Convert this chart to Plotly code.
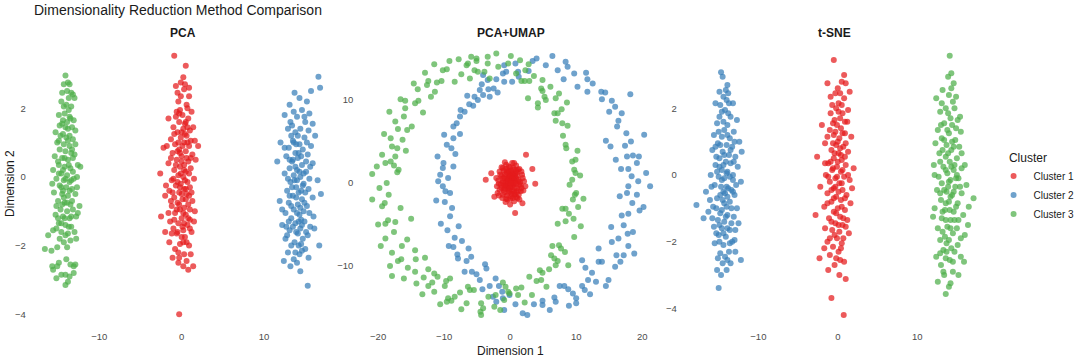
import plotly.graph_objects as go

W, H = 1080, 360

panels = ["PCA", "PCA+UMAP", "t-SNE"]
clusters = ["Cluster 1", "Cluster 2", "Cluster 3"]
colors = {"Cluster 1": "#E41A1C", "Cluster 2": "#377EB8", "Cluster 3": "#4DAF4A"}

# ---------------- PCA ----------------
pca_c1 = [(-0.9, 3.53), (0.5, 3.24), (-0.1, 2.75), (0.4, 2.7), (0.3, 2.55), (0.9, 2.35), (-0.4, 2.2), (0.6, 2.1),
          (-0.2, 1.95), (1.2, 1.9), (0.1, 1.8), (-0.7, 1.75), (0.8, 1.7), (-0.3, 1.6), (0.4, 1.55), (-1.0, 1.45),
          (0.2, 1.4), (1.0, 1.35), (-0.5, 1.3), (0.6, 1.2), (-1.3, 1.1), (-0.1, 1.15), (1.6, 1.05), (0.3, 1.0),
          (-0.8, 0.95), (0.9, 0.9), (-2.2, 0.85), (-0.3, 0.8), (0.5, 0.75), (-1.1, 0.7), (1.3, 0.65), (0.0, 0.6),
          (-0.6, 0.5), (0.8, 0.45), (-1.6, 0.4), (0.3, 0.35), (-0.2, 0.3), (1.1, 0.25), (-0.9, 0.2), (0.5, 0.15),
          (-2.6, 0.1), (-0.4, 0.05), (0.2, 0.0), (1.5, -0.05), (-1.2, -0.1), (0.7, -0.15), (-0.1, -0.2),
          (-0.7, -0.25), (1.0, -0.3), (0.3, -0.35), (-1.5, -0.4), (-0.3, -0.45), (0.6, -0.5), (-2.0, -0.55),
          (-0.9, -0.6), (0.1, -0.65), (1.3, -0.7), (-0.5, -0.75), (0.8, -0.8), (-1.2, -0.85), (0.3, -0.9),
          (-0.2, -0.95), (1.6, -1.0), (-0.8, -1.05), (0.5, -1.1), (-2.5, -1.15), (0.0, -1.2), (1.0, -1.25),
          (-1.4, -1.3), (-0.4, -1.35), (0.7, -1.4), (-1.0, -1.5), (0.2, -1.55), (1.2, -1.6), (-0.6, -1.65),
          (0.4, -1.75), (-1.5, -1.9), (-0.2, -1.95), (0.9, -2.0), (-0.8, -2.1), (0.3, -2.25), (-1.1, -2.35),
          (0.6, -2.45), (-0.4, -2.5), (1.4, -2.6), (0.8, -2.7), (-0.3, -2.35), (0.1, -1.45), (-0.2, 0.7),
          (0.5, 1.6), (-1.9, -0.25), (-0.3, -4.0),
          (0.2, 2.9), (-0.5, 2.45), (0.7, 2.0), (-0.1, 2.35), (1.4, 1.45), (-0.6, 1.9), (0.0, 1.3), (0.7, 1.45),
          (-0.4, 1.0), (0.4, 1.25), (1.1, 1.05), (-0.9, 1.25), (0.1, 0.9), (-0.5, 0.75), (0.6, 0.55), (1.7, 0.5),
          (-1.3, 0.55), (0.0, 0.45), (-0.7, 0.35), (0.9, 0.1), (0.3, 0.2), (-1.0, -0.05), (-0.5, -0.15),
          (0.4, -0.1), (1.2, -0.45), (-0.2, -0.3), (0.9, -0.55), (-1.1, -0.45), (0.0, -0.5), (-0.6, -0.95),
          (0.5, -0.65), (1.0, -0.95), (-0.3, -0.8), (0.2, -1.05), (-1.6, -1.05), (0.8, -1.2), (-0.9, -1.25),
          (0.3, -1.35), (-0.5, -1.6), (1.0, -1.5), (0.0, -1.75), (-1.2, -1.65), (0.6, -1.9), (-0.4, -2.2),
          (1.1, -2.25), (0.2, -2.6), (-2.0, -1.6), (2.0, 0.9), (-1.6, 1.7), (0.9, 2.6), (-0.7, 2.65),
          (1.5, -1.3), (-1.8, 0.9), (-0.1, 0.1), (0.5, -0.35), (-0.3, 1.85), (0.2, -1.9), (1.1, 0.55),
          (-1.3, -0.7), (0.7, 1.0)]
pca_c2 = [(16.6, 2.92), (16.8, 2.6), (13.7, 2.45), (15.2, 2.2), (13.1, 2.1), (14.6, 1.95), (15.5, 1.85), (12.5, 1.8),
          (14.0, 1.75), (15.0, 1.6), (13.4, 1.5), (14.4, 1.4), (13.8, 1.3), (16.2, 1.2), (14.9, 1.15), (12.0, 1.0),
          (13.5, 1.05), (14.3, 0.95), (15.7, 0.9), (13.0, 0.85), (14.7, 0.8), (13.8, 0.7), (15.3, 0.65), (12.7, 0.6),
          (14.1, 0.55), (13.4, 0.45), (15.9, 0.4), (14.6, 0.35), (13.1, 0.25), (14.0, 0.2), (15.1, 0.15), (12.5, 0.1),
          (13.6, 0.05), (14.4, 0.0), (16.5, -0.1), (13.2, -0.15), (14.8, -0.2), (13.9, -0.3), (15.4, -0.35),
          (12.8, -0.4), (14.2, -0.45), (13.5, -0.55), (15.9, -0.6), (14.6, -0.65), (11.9, -0.7), (13.0, -0.75),
          (14.1, -0.8), (15.2, -0.85), (13.6, -0.95), (14.8, -1.0), (12.6, -1.05), (14.3, -1.1), (16.0, -1.15),
          (13.3, -1.2), (14.9, -1.3), (13.8, -1.35), (12.2, -1.4), (15.6, -1.45), (14.4, -1.5), (13.1, -1.55),
          (14.1, -1.65), (15.1, -1.6), (12.6, -1.8), (13.7, -1.9), (14.5, -1.95), (16.7, -2.0), (15.0, -2.1),
          (12.9, -2.2), (14.3, -2.25), (13.6, -2.4), (15.4, -2.35), (14.0, -2.5), (13.2, -2.6), (14.4, -2.75),
          (15.3, -3.17), (14.7, -0.25), (13.9, 0.95), (14.5, -1.25), (13.2, 1.6), (15.6, 0.3), (14.2, -2.0),
          (13.5, 0.5),
          (15.7, 2.5), (14.3, 2.3), (14.9, 1.75), (13.6, 1.9), (12.9, 1.4), (15.9, 1.55), (14.1, 1.2), (13.3, 1.2),
          (15.2, 1.0), (12.5, 0.85), (14.5, 0.6), (13.1, 0.5), (15.1, 0.45), (13.8, 0.3), (14.3, 0.15),
          (12.9, -0.05), (15.5, -0.05), (14.0, -0.1), (13.4, -0.3), (14.5, -0.4), (15.0, -0.45), (13.1, -0.55),
          (13.9, -0.6), (14.9, -0.75), (13.3, -0.85), (14.4, -0.9), (12.2, -0.95), (15.5, -1.05), (14.0, -1.05),
          (13.0, -1.3), (14.6, -1.4), (13.5, -1.45), (15.3, -1.7), (13.9, -1.6), (12.8, -1.7), (14.7, -1.8),
          (13.3, -2.0), (14.6, -2.15), (12.4, -2.45), (13.8, -2.2), (16.1, -1.5), (11.6, 0.45), (16.9, -0.5),
          (14.8, 0.1), (13.7, -0.1), (14.2, 0.7), (15.4, 1.35), (12.7, -1.45), (14.2, -1.3), (13.6, 1.0)]
pca_c3 = [(-14.1, 2.95), (-13.8, 2.75), (-13.6, 2.7), (-14.5, 2.45), (-13.9, 2.5), (-13.4, 2.45), (-13.2, 2.4),
          (-14.6, 2.2), (-13.0, 2.3), (-14.3, 2.05), (-14.0, 2.1), (-13.7, 1.95), (-14.9, 1.8), (-13.6, 1.75),
          (-14.4, 1.65), (-13.5, 1.7), (-13.1, 1.65), (-14.5, 1.55), (-14.1, 1.45), (-15.3, 1.3), (-13.8, 1.4),
          (-13.3, 1.45), (-14.7, 1.2), (-14.0, 1.15), (-13.2, 1.1), (-15.1, 1.0), (-14.3, 0.95), (-13.6, 0.9),
          (-12.9, 0.95), (-14.8, 0.8), (-14.1, 0.75), (-13.4, 0.7), (-15.4, 0.6), (-14.5, 0.55), (-13.8, 0.5),
          (-13.2, 0.55), (-12.6, 0.35), (-14.9, 0.35), (-14.2, 0.3), (-13.5, 0.25), (-15.6, 0.2), (-14.6, 0.1),
          (-13.9, 0.05), (-12.7, 0.0), (-15.2, -0.05), (-14.3, -0.1), (-13.6, -0.15), (-13.1, -0.05),
          (-14.8, -0.25), (-14.0, -0.3), (-13.3, -0.35), (-15.5, -0.45), (-14.5, -0.5), (-13.8, -0.55),
          (-12.9, -0.5), (-15.0, -0.7), (-14.2, -0.75), (-13.5, -0.8), (-12.4, -0.85), (-14.7, -0.95),
          (-13.9, -1.0), (-13.2, -0.95), (-15.3, -1.1), (-14.4, -1.15), (-13.6, -1.2), (-12.8, -1.15),
          (-14.9, -1.35), (-14.1, -1.4), (-13.4, -1.45), (-15.6, -1.55), (-14.6, -1.6), (-13.8, -1.65),
          (-13.0, -1.6), (-16.2, -1.7), (-14.3, -1.9), (-13.5, -1.85), (-15.1, -2.05), (-15.8, -2.15),
          (-14.9, -2.5), (-14.0, -2.4), (-13.5, -2.55), (-15.1, -2.6), (-15.6, -2.7), (-12.9, -2.55),
          (-14.6, -2.85), (-14.1, -2.85), (-13.6, -2.9), (-14.1, -3.15), (-13.1, -2.8), (-13.8, -3.05),
          (-15.7, -2.6),
          (-14.3, 2.7), (-13.7, 2.3), (-14.2, 1.85), (-13.4, 2.05), (-14.8, 1.5), (-13.9, 1.6), (-12.9, 1.35),
          (-14.4, 1.25), (-13.6, 1.2), (-14.9, 1.05), (-13.3, 0.8), (-14.2, 0.55), (-13.0, 0.65), (-15.0, 0.45),
          (-13.7, 0.35), (-14.4, 0.2), (-13.2, 0.15), (-14.9, 0.1), (-14.1, -0.05), (-13.4, -0.1), (-15.7, -0.2),
          (-14.6, -0.3), (-13.6, -0.4), (-12.7, -0.3), (-14.3, -0.6), (-15.2, -0.85), (-13.3, -0.7), (-14.5, -0.8),
          (-13.9, -0.75), (-12.6, -1.05), (-14.2, -1.2), (-15.0, -1.2), (-13.4, -1.15), (-14.6, -1.35),
          (-13.7, -1.45), (-15.2, -1.5), (-14.1, -1.7), (-12.8, -1.8), (-14.8, -1.8), (-13.9, -2.05),
          (-14.4, -0.4), (-13.8, 1.05), (-12.3, 0.3), (-16.6, -2.1), (-15.2, -2.95), (-13.1, -2.6)]

# ---------------- PCA+UMAP ----------------
umap_c1 = [(0.3, 2.4), (-0.6, 2.2), (0.9, 2.1), (-1.1, 1.8), (0.0, 1.9), (1.4, 1.7), (-0.3, 1.5), (0.6, 1.6),
           (-1.6, 1.4), (1.0, 1.3), (0.2, 1.2), (-0.8, 1.1), (1.8, 1.0), (-0.1, 0.9), (0.7, 0.8), (-1.3, 0.8),
           (-2.1, 0.6), (0.4, 0.5), (-0.5, 0.5), (1.3, 0.4), (0.0, 0.3), (-1.0, 0.2), (2.1, 0.2), (0.8, 0.1),
           (-0.3, 0.0), (-1.7, -0.1), (0.5, -0.2), (1.6, -0.3), (-0.7, -0.3), (0.1, -0.5), (-1.3, -0.6),
           (1.0, -0.6), (-0.2, -0.8), (2.0, -0.9), (0.6, -1.0), (-0.9, -1.1), (-1.9, -1.2), (0.2, -1.3),
           (1.3, -1.4), (-0.5, -1.5), (0.9, -1.7), (-1.2, -1.8), (0.0, -1.9), (0.6, -2.2), (-0.7, -2.3),
           (1.4, -2.0), (0.75, -3.6), (2.4, 3.4), (3.8, -0.1), (3.36, 1.69), (-3.7, 0.4), (-2.86, 1.17),
           (1.86, -2.45), (-2.4, -1.65), (0.4, 0.9), (-0.4, -0.6), (0.9, -0.1), (-0.9, 0.6), (0.3, -0.9),
           (-0.2, 1.4), (1.1, 0.9), (-1.4, -0.2), (0.7, -1.4), (-0.6, 1.7), (1.6, -1.0), (-1.1, -1.4),
           (0.1, 0.6), (-0.3, -1.2), (0.5, 1.8), (1.9, 0.6), (-1.8, 0.3), (-0.8, -0.7), (1.2, -0.9),
           (0.0, -0.2),
           (0.2, 0.2), (-0.4, 0.3), (0.6, 0.4), (-0.2, 0.7), (0.9, 0.6), (-0.7, 0.0), (0.3, -0.3), (-0.5, -0.3),
           (0.7, -0.6), (-0.1, -0.6), (0.4, 1.1), (-0.6, 1.0), (1.2, 0.2), (-1.2, 0.5), (0.1, 1.5), (1.0, -1.1),
           (-1.0, -0.8), (0.5, 0.0), (-0.3, 0.5), (0.8, 1.1), (-0.9, -0.3), (0.2, -1.6), (-0.6, -1.9), (1.5, 0.1),
           (-1.5, 1.0), (0.0, 0.9), (1.2, 1.6), (-1.0, 1.5), (0.4, -1.8), (-0.2, 2.0), (-1.6, -0.8), (1.7, -0.6),
           (0.9, 1.5), (-0.4, -2.0), (1.1, -1.8), (-1.3, 1.9), (0.6, 2.4), (-2.0, -0.4), (2.3, -0.4), (-0.8, 2.5),
           (0.0, -2.6), (1.7, 1.4), (-1.7, -1.5), (0.3, 0.6), (-0.1, -1.0), (0.6, -1.3), (-0.5, 1.3), (1.4, -0.2),
           (-1.1, 0.0), (0.1, 0.0)]
umap_c2 = [(6.4, 15.3), (5.4, 14.2), (3.4, 14.7), (8.4, 14.6), (8.7, 14.0), (11.5, 13.3), (11.7, 12.5), (8.1, 12.5),
           (11.7, 11.0), (13.8, 11.0), (14.4, 10.9), (13.9, 10.1), (15.4, 9.9), (15.9, 9.2), (18.2, 10.7),
           (16.4, 7.5), (16.2, 6.8), (16.9, 8.4), (14.5, 5.1), (15.2, 4.4), (17.4, 4.5), (17.7, 3.2), (18.6, 3.3),
           (19.5, 3.2), (19.2, 2.4), (16.8, 1.7), (17.9, 1.7), (20.3, 5.8), (19.4, 0.2), (1.3, 12.8), (1.2, 13.4),
           (-0.6, 13.4), (0.3, 12.2), (-0.9, 12.2), (-2.1, 12.5), (-3.4, 12.4), (-4.1, 13.0), (-4.3, 11.9),
           (-3.3, 11.3), (-1.9, 10.9), (-4.6, 11.2), (-4.1, 10.6), (-3.1, 10.4), (-5.4, 10.4), (-6.5, 10.5),
           (-4.9, 10.0), (-5.6, 9.3), (-6.9, 8.6), (-7.5, 8.8), (-7.6, 8.0), (-8.6, 6.8), (-7.6, 5.9), (-10.0, 5.8),
           (-8.6, 5.4), (-8.9, 4.2), (-8.3, 3.5), (-11.0, 3.2), (-10.1, 2.4), (-8.6, 2.0), (-10.6, 1.0), (-9.4, 0.6),
           (-0.9, 14.2), (2.8, 13.5), (-10.9, 0.2), (-10.2, -0.4), (-9.9, -2.3), (-9.1, -1.2), (-9.1, -4.0),
           (-7.8, -5.2), (-9.5, -5.7), (-8.4, -6.6), (-9.3, -7.6), (-8.6, -7.7), (-6.3, -7.9), (-5.9, -8.9),
           (-6.6, -9.4), (-7.9, -9.1), (-5.8, -10.7), (-5.1, -11.0), (-3.8, -9.8), (-3.6, -10.3), (-2.2, -11.5),
           (-3.1, -12.4), (-1.7, -12.4), (-1.2, -13.1), (-2.6, -13.7), (-1.1, -13.9), (-0.1, -13.5), (-2.1, -14.3),
           (1.9, -15.7), (2.6, -15.9), (4.9, -14.2), (4.9, -14.7), (6.7, -13.8), (6.9, -14.3), (7.5, -12.4),
           (8.2, -12.4), (8.8, -12.8), (9.5, -13.3), (10.0, -13.9), (10.0, -14.5), (10.9, -12.4), (11.3, -12.9),
           (10.9, -9.3), (11.4, -10.2), (12.4, -10.8), (13.4, -9.5), (13.9, -9.5), (13.4, -7.9), (14.5, -12.4),
           (14.9, -11.7), (15.4, -7.1), (16.4, -6.7), (16.1, -8.7), (16.7, -9.5), (17.2, -8.7), (17.9, -7.6),
           (17.8, -6.1), (18.6, -5.9), (15.3, -5.3), (16.9, -3.9), (17.9, -3.7), (18.5, -2.4), (17.7, -1.2),
           (17.9, -0.4), (19.2, -1.4), (20.2, -2.9), (21.2, -0.4),
           (4.0, 15.0), (7.2, 13.6), (9.7, 13.2), (10.2, 11.6), (12.5, 12.0), (15.0, 8.6), (17.6, 6.0), (18.3, 5.0),
           (16.0, 2.8), (20.6, 1.2), (18.4, 0.8), (16.6, -1.6), (19.6, -3.3), (17.2, -5.1), (15.9, -10.1),
           (13.0, -11.9), (12.1, -13.4), (8.9, -14.8), (6.0, -15.3), (3.6, -14.6), (0.8, -14.6), (-0.9, -15.3),
           (-4.2, -12.8), (-4.6, -11.7), (-6.9, -10.7), (-8.0, -8.6), (-10.5, -4.9), (-8.8, -3.0), (-11.2, -2.1),
           (-10.2, 1.8), (-9.6, 4.6), (-8.1, 7.2), (-6.2, 9.5), (-2.5, 11.4), (-1.1, 13.2), (0.8, 14.4),
           (-9.8, -1.0), (-7.3, -7.0), (11.8, -11.7), (18.8, -8.5)]
umap_c3 = [(-20.9, 1.1), (-19.4, 3.4), (-18.9, 2.4), (-18.1, 5.4), (-17.9, 4.4), (-17.1, 4.2), (-17.4, 3.2),
           (-18.1, 2.6), (-17.6, 2.1), (-16.9, 1.6), (-17.1, 1.3), (-15.8, 3.9), (-17.4, 7.4), (-15.6, 6.4),
           (-14.9, 6.8), (-16.1, 8.0), (-15.9, 9.0), (-16.6, 10.1), (-15.9, 9.9), (-14.4, 9.6), (-13.9, 9.9),
           (-13.2, 8.5), (-14.6, 12.0), (-12.6, 11.8), (-12.4, 12.3), (-11.1, 12.1), (-11.4, 11.0), (-12.0, 10.4),
           (-10.4, 12.3), (-10.2, 13.6), (-9.6, 13.7), (-8.4, 12.2), (-11.5, 14.3), (-7.4, 13.1), (-6.1, 12.6),
           (-6.6, 14.2), (-6.4, 14.4), (-5.9, 15.2), (-5.1, 15.0), (-5.1, 14.7), (-5.4, 13.6), (-4.9, 13.4),
           (-3.9, 13.4), (-3.4, 14.4), (-3.4, 15.2), (-1.8, 14.0), (-0.3, 14.4), (0.9, 13.2), (1.7, 12.3),
           (2.2, 12.3), (2.9, 12.3), (2.3, 13.6), (2.8, 14.3), (4.9, 12.4), (4.7, 11.4), (4.9, 11.1), (5.2, 10.4),
           (5.4, 10.0), (4.2, 9.6), (4.2, 9.1), (2.7, 10.2), (7.4, 10.8), (6.9, 10.2), (7.2, 8.4), (6.7, 8.4),
           (7.8, 8.9), (6.9, 7.5), (7.9, 7.2), (8.7, 6.9), (8.4, 4.6), (8.5, 4.2), (9.4, 2.6), (9.9, 2.8),
           (9.7, 1.6), (9.9, 1.2), (9.4, 0.4), (-18.7, 0.0), (-18.4, -1.4), (-19.4, -2.8), (-19.0, -2.4),
           (-18.9, -4.9), (-18.5, -4.5), (-17.4, -4.7), (-17.6, -5.9), (-18.9, -6.7), (-15.0, -4.3),
           (-16.4, -7.6), (-15.6, -6.8), (-14.4, -8.1), (-14.3, -9.2), (-17.0, -9.4), (-16.5, -9.2),
           (-15.5, -10.2), (-17.9, -11.2), (-14.4, -10.7), (-14.2, -12.1), (-12.9, -9.0), (-12.4, -10.4),
           (-11.5, -10.9), (-11.8, -12.0), (-12.4, -12.4), (-11.5, -13.1), (-9.9, -12.4), (-9.7, -11.8),
           (-9.1, -11.5), (-9.4, -13.9), (-8.9, -14.2), (-9.6, -14.3), (-8.4, -13.7), (-7.6, -13.2),
           (-6.6, -14.5), (-6.4, -12.5), (-6.1, -12.9), (-5.5, -12.9), (-4.4, -14.5), (-4.1, -15.1),
           (-4.5, -15.5), (-4.4, -15.9), (-2.4, -14.9), (-2.2, -13.5), (-1.1, -12.0), (-0.7, -12.5),
           (-0.3, -13.1), (-0.9, -14.1), (-0.1, -13.3), (0.9, -12.7), (1.7, -12.6), (1.2, -13.5), (2.9, -11.3),
           (3.3, -13.5), (4.0, -11.8), (4.7, -11.7), (4.5, -10.5), (4.9, -10.8), (5.9, -10.4), (6.2, -8.7),
           (6.7, -9.1), (6.9, -9.9), (7.2, -9.4), (6.4, -7.6), (7.4, -7.5), (7.7, -7.9), (8.3, -8.3), (7.2, -4.9),
           (7.9, -3.1), (8.4, -3.1), (8.9, -3.7), (8.4, -4.6), (9.0, -0.2), (9.5, -2.0), (9.8, -1.4),
           (10.0, -1.2), (10.3, -2.9), (10.7, -5.2),
           (-19.8, -0.6), (-20.2, 2.0), (-19.1, 5.9), (-17.0, 6.5), (-18.3, 8.6), (-14.0, 11.3), (-9.2, 14.7),
           (-7.8, 14.9), (-2.1, 15.6), (0.1, 15.3), (1.5, 14.8), (3.6, 12.9), (6.1, 11.6), (8.6, 9.7), (8.0, 5.7),
           (10.2, 3.9), (10.6, 0.9), (11.1, -1.9), (9.6, -4.3), (9.7, -6.5), (8.8, -9.9), (5.5, -12.5),
           (2.2, -14.4), (-1.5, -15.3), (-3.3, -13.7), (-7.4, -15.2), (-10.6, -14.6), (-13.3, -13.4),
           (-16.1, -11.5), (-18.2, -10.0), (-19.6, -7.6), (-20.0, -5.0), (-20.9, -2.0), (-16.6, -3.0),
           (-17.9, -8.4), (-13.1, -11.4), (-11.0, -11.3), (-16.3, 5.2), (-12.9, 13.3), (-3.1, 12.6)]

# ---------------- t-SNE ----------------
tsne_c1 = [(-0.5, 3.45), (0.8, 3.0), (1.0, 2.75), (-0.3, 2.45), (0.3, 2.45), (0.8, 2.3), (-0.7, 2.1), (0.1, 2.15),
           (-0.9, 1.85), (0.6, 1.85), (-0.4, 1.65), (1.2, 1.6), (-0.1, 1.5), (0.4, 1.4), (-1.0, 1.35), (0.9, 1.25),
           (-0.5, 1.2), (1.7, 1.15), (0.2, 1.1), (-1.6, 0.95), (-0.2, 0.9), (0.7, 0.85), (-0.8, 0.75), (1.3, 0.7),
           (0.1, 0.65), (-2.6, 0.55), (-0.5, 0.5), (0.5, 0.45), (-1.2, 0.35), (1.0, 0.3), (-0.1, 0.25), (2.0, 0.2),
           (-0.7, 0.15), (0.4, 0.1), (-1.5, 0.0), (0.8, -0.05), (-0.3, -0.1), (1.5, -0.15), (-1.0, -0.2),
           (0.2, -0.25), (-2.2, -0.35), (-0.5, -0.4), (0.6, -0.45), (-1.3, -0.55), (1.1, -0.6), (-0.2, -0.65),
           (0.4, -0.75), (-0.8, -0.8), (1.6, -0.85), (-1.7, -0.95), (0.0, -1.0), (0.9, -1.05), (-0.5, -1.1),
           (-2.8, -1.2), (0.3, -1.25), (-1.1, -1.3), (1.2, -1.35), (-0.3, -1.45), (0.6, -1.5), (-1.6, -1.6),
           (-0.7, -1.65), (0.2, -1.7), (1.4, -1.75), (-0.1, -1.9), (-1.3, -2.0), (0.5, -2.05), (-0.6, -2.15),
           (0.1, -2.3), (-1.0, -2.4), (0.3, -2.55), (-0.4, -2.7), (-2.3, -2.5), (-1.2, -2.85), (1.0, -3.12),
           (-0.8, -3.69), (0.75, -4.2), (0.4, 0.6), (-0.3, -0.35), (0.7, -1.9), (-0.9, 0.4), (0.1, 1.9),
           (1.5, 2.5), (-1.3, 2.75), (0.5, 2.8),
           (0.0, 2.6), (-0.2, 2.0), (0.5, 2.1), (-0.6, 1.55), (0.3, 1.7), (0.9, 1.6), (-0.3, 1.3), (0.6, 1.25),
           (-1.3, 1.15), (0.0, 1.0), (1.0, 0.95), (-0.6, 0.95), (0.3, 0.8), (-0.4, 0.65), (0.9, 0.55), (-1.6, 0.35),
           (0.0, 0.4), (-0.6, 0.2), (0.6, 0.15), (1.3, 0.0), (-0.1, -0.05), (-1.2, -0.05), (0.5, -0.25),
           (-0.8, -0.45), (0.1, -0.5), (0.9, -0.7), (-0.5, -0.7), (-1.3, -0.85), (0.5, -0.95), (-0.2, -1.15),
           (0.7, -1.3), (-0.8, -1.4), (0.1, -1.5), (1.0, -1.55), (-0.4, -1.8), (-1.0, -1.9), (0.4, -2.2),
           (-0.2, -2.5), (0.8, -2.6), (-1.7, -2.2), (1.8, -0.4), (-2.0, 1.5), (1.3, 1.95), (-0.9, 2.35),
           (0.2, -3.0)]
tsne_c2 = [(-14.7, 3.08), (-14.5, 2.95), (-13.9, 2.7), (-14.1, 2.55), (-14.4, 2.35), (-15.4, 2.15), (-14.8, 2.1),
           (-13.7, 2.15), (-13.2, 2.15), (-14.2, 1.95), (-13.8, 1.85), (-14.9, 1.75), (-12.7, 1.65), (-15.2, 1.55),
           (-13.9, 1.5), (-14.3, 1.35), (-13.1, 1.3), (-15.6, 1.2), (-14.6, 1.15), (-13.6, 1.1), (-12.4, 1.0),
           (-15.1, 0.95), (-14.0, 0.9), (-13.3, 0.85), (-15.8, 0.75), (-14.5, 0.7), (-13.7, 0.6), (-12.9, 0.55),
           (-14.9, 0.5), (-14.1, 0.4), (-15.4, 0.3), (-13.5, 0.35), (-12.6, 0.25), (-14.6, 0.15), (-13.9, 0.1),
           (-16.0, 0.0), (-15.0, -0.05), (-14.3, -0.1), (-13.2, -0.15), (-12.2, -0.2), (-15.5, -0.3), (-14.7, -0.35),
           (-13.8, -0.4), (-16.6, -0.5), (-14.2, -0.55), (-13.0, -0.6), (-15.2, -0.7), (-14.5, -0.75), (-13.6, -0.8),
           (-17.8, -0.9), (-15.7, -0.95), (-14.0, -0.95), (-12.7, -1.0), (-16.3, -1.1), (-14.8, -1.15),
           (-13.9, -1.2), (-13.1, -1.25), (-15.1, -1.35), (-14.3, -1.4), (-12.5, -1.45), (-15.6, -1.55),
           (-14.6, -1.6), (-13.6, -1.65), (-15.0, -1.8), (-14.1, -1.85), (-13.0, -1.95), (-15.5, -2.05),
           (-14.4, -2.1), (-13.3, -2.0), (-14.8, -2.35), (-13.7, -2.3), (-15.1, -2.5), (-13.5, -2.65),
           (-14.5, -2.65), (-12.2, -2.55), (-15.2, -2.85), (-14.0, -2.85), (-15.0, -3.39), (-14.9, 0.25),
           (-13.4, -0.45), (-14.4, 1.6), (-13.2, 0.0), (-15.3, -1.0), (-14.2, -2.45), (-13.8, 2.45), (-12.9, -1.65),
           (-14.0, 2.25), (-14.6, 1.9), (-13.5, 1.75), (-15.0, 1.3), (-13.9, 1.2), (-14.8, 0.9), (-13.5, 0.75),
           (-14.3, 0.6), (-15.3, 0.55), (-13.1, 0.4), (-14.4, 0.3), (-14.0, 0.05), (-15.2, 0.1), (-13.6, -0.05),
           (-14.6, -0.15), (-12.8, -0.3), (-15.9, -0.35), (-14.0, -0.35), (-13.2, -0.5), (-14.8, -0.6),
           (-16.1, -0.75), (-13.9, -0.65), (-14.3, -0.85), (-13.4, -1.0), (-14.6, -1.05), (-15.8, -1.3),
           (-14.1, -1.25), (-13.4, -1.45), (-14.9, -1.5), (-13.9, -1.6), (-14.4, -1.75), (-15.3, -1.75),
           (-13.6, -2.05), (-14.9, -2.0), (-13.9, -2.55), (-14.4, -0.5), (-15.4, 0.85), (-12.1, 0.7),
           (-16.9, -1.3), (-12.9, -2.3), (-14.7, -3.0), (-14.9, 2.5), (-13.0, 1.0)]
tsne_c3 = [(14.1, 3.58), (13.9, 2.95), (14.6, 2.75), (13.2, 2.55), (14.3, 2.6), (12.4, 2.3), (14.0, 2.4), (13.1, 2.15),
           (14.7, 2.0), (12.9, 1.9), (13.9, 1.85), (15.1, 1.65), (13.4, 1.55), (14.4, 1.5), (12.6, 1.35), (15.5, 1.3),
           (14.0, 1.25), (13.1, 1.1), (14.8, 1.05), (12.3, 0.95), (13.7, 0.9), (15.3, 0.85), (14.3, 0.75),
           (12.8, 0.65), (13.6, 0.55), (15.0, 0.5), (14.1, 0.4), (12.1, 0.3), (13.3, 0.25), (15.6, 0.2), (14.6, 0.15),
           (13.8, 0.05), (12.7, -0.05), (15.2, -0.1), (14.2, -0.15), (13.1, -0.25), (16.2, -0.3), (14.8, -0.35),
           (12.5, -0.45), (13.7, -0.5), (15.6, -0.55), (14.4, -0.6), (17.1, -0.7), (13.0, -0.75), (14.0, -0.8),
           (15.1, -0.85), (16.5, -0.95), (12.2, -1.0), (13.5, -1.05), (14.6, -1.1), (15.8, -1.2), (13.1, -1.3),
           (14.2, -1.35), (12.6, -1.6), (13.8, -1.55), (15.0, -1.6), (14.5, -1.75), (16.0, -1.8), (12.9, -1.95),
           (13.7, -2.05), (15.1, -2.1), (14.3, -2.2), (12.4, -2.45), (13.6, -2.5), (14.1, -2.55), (15.5, -2.45),
           (13.0, -2.7), (14.5, -2.9), (13.4, -3.0), (15.2, -3.0), (12.6, -3.2), (14.0, -3.35), (14.2, -3.25),
           (13.6, -3.57), (13.2, 0.75), (14.9, -0.1), (13.9, -0.35), (14.4, 1.0), (13.5, -1.85), (14.7, 0.3),
           (13.3, -2.25), (15.4, 1.75),
           (14.3, 3.05), (14.5, 2.2), (13.6, 2.0), (14.2, 1.7), (13.8, 1.35), (14.9, 1.4), (13.4, 1.05),
           (14.6, 0.85), (13.9, 0.65), (15.6, 0.65), (12.9, 0.4), (14.3, 0.25), (13.6, 0.15), (15.0, 0.0),
           (14.0, -0.2), (13.4, -0.45), (14.6, -0.5), (15.4, -0.35), (12.9, -0.55), (14.2, -0.65), (13.6, -0.85),
           (14.9, -0.95), (14.1, -1.05), (13.2, -1.1), (15.2, -1.35), (14.7, -1.35), (13.6, -1.35), (14.2, -1.6),
           (13.2, -1.7), (15.5, -1.9), (14.0, -1.95), (14.7, -2.3), (13.7, -2.3), (12.9, -2.35), (14.5, -2.6),
           (15.9, -2.6), (13.3, -2.9), (12.2, 0.0), (16.0, 0.3), (16.4, -1.5), (14.9, 2.35), (12.0, -1.25),
           (13.0, 1.5)]

data = {
    "PCA": {"Cluster 1": pca_c1, "Cluster 2": pca_c2, "Cluster 3": pca_c3},
    "PCA+UMAP": {"Cluster 1": umap_c1, "Cluster 2": umap_c2, "Cluster 3": umap_c3},
    "t-SNE": {"Cluster 1": tsne_c1, "Cluster 2": tsne_c2, "Cluster 3": tsne_c3},
}

x_ticks = {"PCA": [-10, 0, 10], "PCA+UMAP": [-20, -10, 0, 10, 20], "t-SNE": [-10, 0, 10]}
y_ticks = {"PCA": [-4, -2, 0, 2], "PCA+UMAP": [-10, 0, 10], "t-SNE": [-4, -2, 0, 2]}
x_ranges = {"PCA": [-18.31, 18.67], "PCA+UMAP": [-23.0, 23.16], "t-SNE": [-19.63, 18.75]}
y_ranges = {"PCA": [-4.37, 3.90], "PCA+UMAP": [-17.35, 16.87], "t-SNE": [-4.56, 3.96]}

# panel pixel boxes (left, right); shared top/bottom
px_x = {"PCA": (31, 338), "PCA+UMAP": (361, 668), "t-SNE": (687, 994)}
top_px, bot_px = 43, 327

FONT = "Liberation Sans, Arial, Helvetica, sans-serif"

fig = go.Figure()
for i, p in enumerate(panels):
    ax = "" if i == 0 else str(i + 1)
    for c in clusters:
        pts = data[p][c]
        fig.add_trace(go.Scatter(
            x=[q[0] for q in pts], y=[q[1] for q in pts],
            mode="markers", name=c, legendgroup=c, showlegend=(i == 0),
            marker=dict(color=colors[c], size=6, opacity=0.72, line=dict(width=0)),
            xaxis="x" + ax, yaxis="y" + ax, hoverinfo="skip",
        ))
    l, r = px_x[p]
    axis_common = dict(showgrid=False, zeroline=False, showline=False, ticks="",
                       tickfont=dict(family=FONT, size=9.5, color="#4D4D4D"))
    fig.layout["xaxis" + ax] = dict(domain=[l / W, r / W], range=x_ranges[p], tickvals=x_ticks[p],
                                    anchor="y" + ax, ticklabelstandoff=2, **axis_common)
    fig.layout["yaxis" + ax] = dict(domain=[1 - bot_px / H, 1 - top_px / H], range=y_ranges[p],
                                    tickvals=y_ticks[p], anchor="x" + ax, ticklabelstandoff=4, **axis_common)
    fig.add_annotation(text="<b>%s</b>" % p, x=(l + r) / 2 / W, y=1 - 33 / H, xref="paper", yref="paper",
                       showarrow=False, font=dict(family=FONT, size=12, color="#1A1A1A"),
                       xanchor="center", yanchor="middle")

fig.add_annotation(text="Dimensionality Reduction Method Comparison", x=32 / W, y=1 - 10 / H,
                   xref="paper", yref="paper", showarrow=False, xanchor="left", yanchor="middle",
                   font=dict(family=FONT, size=14, color="#1A1A1A"))
fig.add_annotation(text="Dimension 1", x=514 / W, y=1 - 351 / H, xref="paper", yref="paper",
                   showarrow=False, xanchor="center", yanchor="middle",
                   font=dict(family=FONT, size=12, color="#1A1A1A"))
fig.add_annotation(text="Dimension 2", x=10 / W, y=1 - 183 / H, xref="paper", yref="paper",
                   showarrow=False, xanchor="center", yanchor="middle", textangle=-90,
                   font=dict(family=FONT, size=12, color="#1A1A1A"))

fig.update_layout(
    width=W, height=H, margin=dict(l=0, r=0, t=0, b=0),
    paper_bgcolor="white", plot_bgcolor="white",
    showlegend=True,
    legend=dict(title=dict(text="\u00a0\u00a0\u00a0\u00a0Cluster",
                           font=dict(family=FONT, size=12, color="#1A1A1A")),
                font=dict(family=FONT, size=10, color="#1A1A1A"),
                x=1001 / W, y=1 - 146 / H, xanchor="left", yanchor="top",
                itemwidth=30, tracegroupgap=0, bgcolor="rgba(0,0,0,0)"),
)

fig.write_html("out.html", config={"displayModeBar": False},
               post_script="document.body.style.margin='0';document.body.style.padding='0';")
